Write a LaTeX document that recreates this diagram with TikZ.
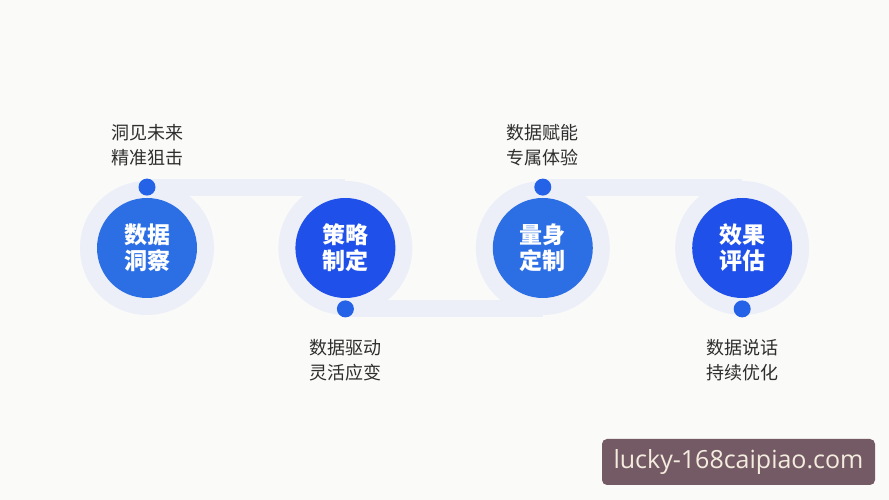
\documentclass[tikz,border=0pt]{standalone}
\usepackage{fontspec}
\newfontfamily\cjk{Noto Sans CJK SC}
\newfontfamily\wmfont{Open Sans}
\usetikzlibrary{
  backgrounds,
  positioning,
}
\definecolor{paper}{HTML}{FAFAF8}
\definecolor{halocol}{HTML}{EDEFF8}
\definecolor{lightblue}{HTML}{2C6FE5}
\definecolor{deepblue}{HTML}{1F50E9}
\definecolor{dotblue}{HTML}{2462E7}
\definecolor{labelgray}{HTML}{2E2E2E}
\definecolor{markbg}{HTML}{745A65}
\definecolor{markfg}{HTML}{F4EDDF}
\tikzset{
  stage/.style={
    circle,
    minimum size=100pt,
    inner sep=0pt,
    align=center,
    text=white,
    font=\cjk\bfseries\fontsize{23}{26}\selectfont,
  },
  halo/.style={
    circle,
    minimum size=134pt,
    inner sep=0pt,
    fill=halocol,
  },
  band/.style={
    line width=17pt,
    draw=halocol,
  },
  pin/.style={
    circle,
    minimum size=17pt,
    inner sep=0pt,
    fill=dotblue,
  },
  note/.style={
    align=center,
    text=labelgray,
    inner sep=0pt,
    font=\cjk\fontsize{18}{25}\selectfont,
  },
}

\begin{document}
\begin{tikzpicture}[
    x=1pt, y=1pt,
    node distance=2pt,
  ]
  \useasboundingbox (0,0) rectangle (889,500);

  % Stages
  \node (s1) [stage, fill=lightblue] at (147,252) {数据\\洞察};
  \node (s2) [stage, fill=deepblue, right=98pt of s1] {策略\\制定};
  \node (s3) [stage, fill=lightblue, right=97pt of s2] {量身\\定制};
  \node (s4) [stage, fill=deepblue, right=99pt of s3] {效果\\评估};

  % Pins
  \node (p1) [pin, above=of s1] {};
  \node (p2) [pin, below=of s2] {};
  \node (p3) [pin, above=of s3] {};
  \node (p4) [pin, below=of s4] {};

  % Notes
  \node (n1) [note, above=12pt of p1] {洞见未来\\精准狙击};
  \node (n2) [note, below=22pt of p2] {数据驱动\\灵活应变};
  \node (n3) [note, above=12pt of p3] {数据赋能\\专属体验};
  \node (n4) [note, below=22pt of p4] {数据说话\\持续优化};

  % Watermark
  \node (mark) [fill=markbg, text=markfg, rounded corners=5pt,
    minimum width=273pt, minimum height=46pt,
    font=\wmfont\fontsize{25}{28}\selectfont] at (738.5,38) {lucky-168caipiao.com};

  % Halos and bands
  \begin{scope}[on background layer]
    \fill[paper] (0,0) rectangle (889,500);
    \draw [band] (p1.center) -- (p1 -| s2);
    \draw [band] (p2.center) -- (p2 -| s3);
    \draw [band] (p3.center) -- (p3 -| s4);
    \foreach \s in {s1,s2,s3,s4} {
      \node [halo] at (\s) {};
    }
  \end{scope}
\end{tikzpicture}
\end{document}
